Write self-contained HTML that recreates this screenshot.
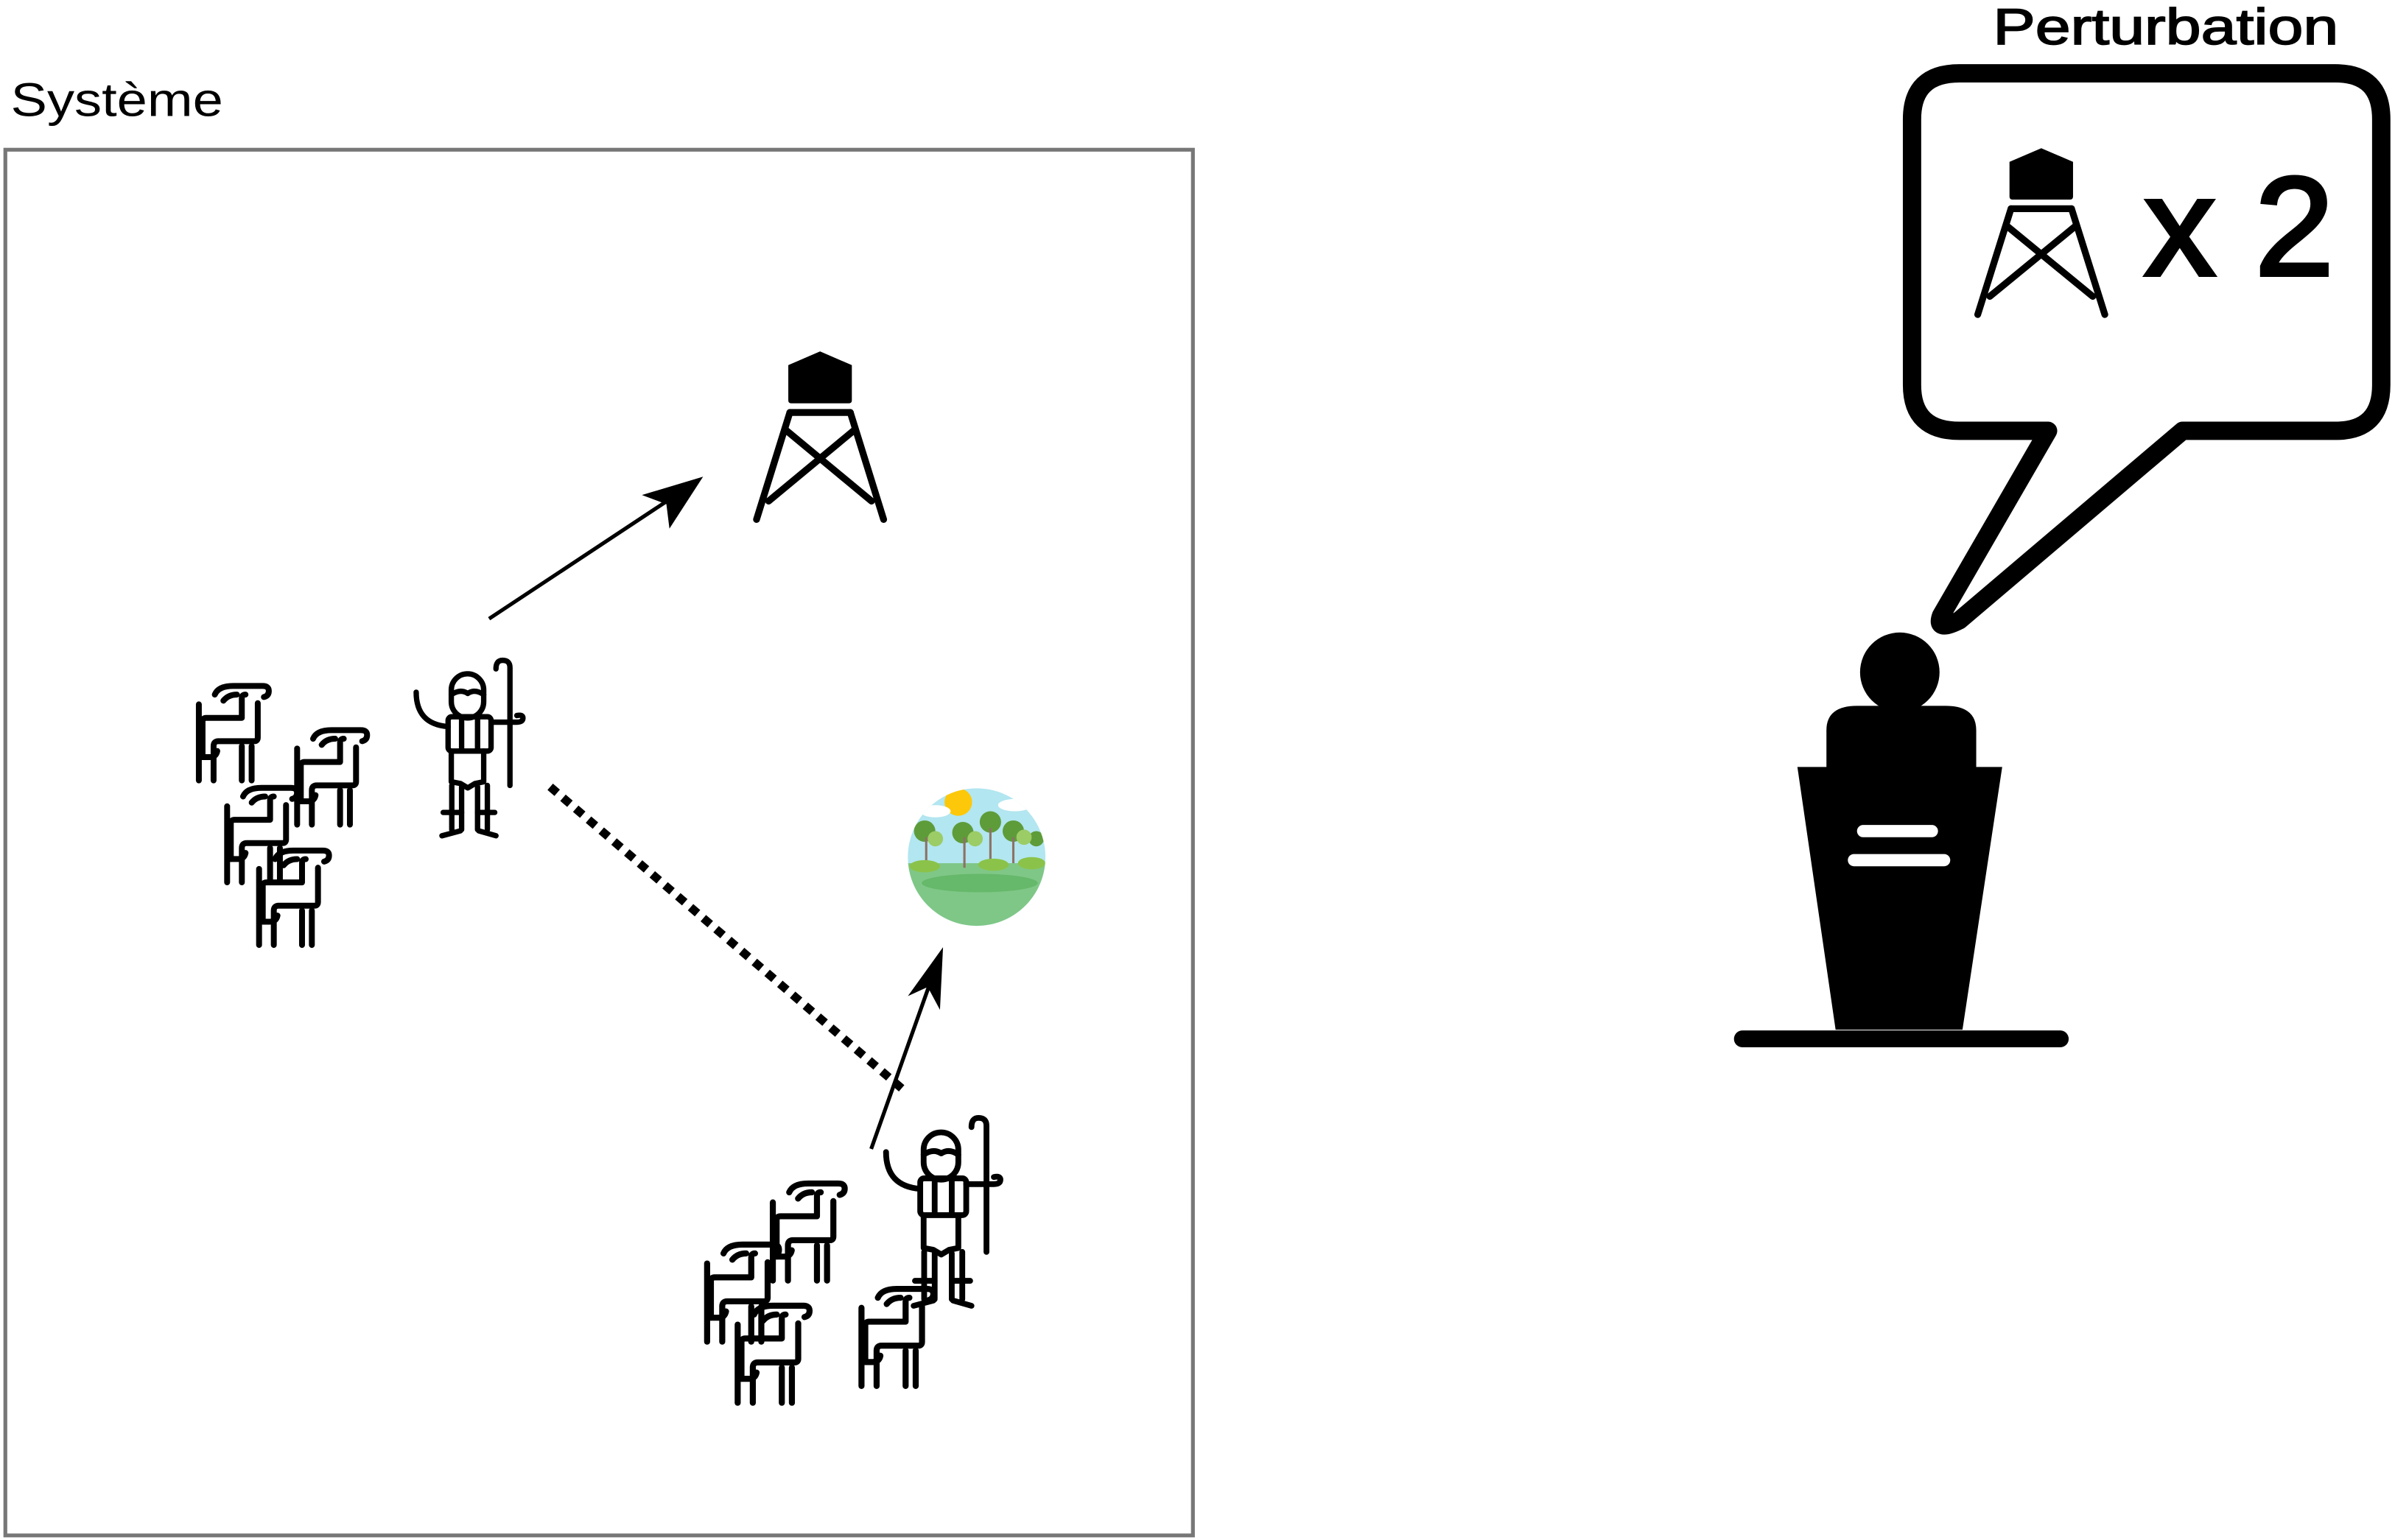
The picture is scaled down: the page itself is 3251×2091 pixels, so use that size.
<!DOCTYPE html>
<html><head><meta charset="utf-8"><style>
html,body{margin:0;padding:0;background:#fff;width:3251px;height:2091px;overflow:hidden}
svg{display:block}
</style></head><body>
<svg width="3251" height="2091" viewBox="0 0 1567 1008" preserveAspectRatio="none" xmlns="http://www.w3.org/2000/svg">
<defs>
  <g id="sheep" fill="none" stroke="#000" stroke-width="24" stroke-linecap="round" stroke-linejoin="round">
    <path d="M10,85 V395"/>
    <path d="M25,300 V155 Q25,140 40,140 H185 V60 Q185,45 200,45"/>
    <path d="M250,80 V220 Q250,235 235,235 H90 Q70,235 70,255 V395"/>
    <path d="M185,255 V395 M225,255 V395"/>
    <path d="M25,300 H55 Q80,300 85,275"/>
    <path d="M75,45 Q90,10 150,10 H270 Q295,10 295,30 Q295,50 275,55"/>
    <path d="M110,70 Q130,45 165,45"/>
  </g>
  <g id="shepherd" fill="none" stroke="#000" stroke-width="22" stroke-linecap="round" stroke-linejoin="round">
    <rect x="153" y="65" width="132" height="180" rx="66"/>
    <path d="M153,150 Q190,125 220,145 Q250,125 285,150"/>
    <rect x="140" y="240" width="175" height="140" rx="15"/>
    <path d="M195,245 V375 M260,245 V375"/>
    <path d="M10,140 Q10,270 140,280"/>
    <path d="M335,45 Q335,10 362,10 Q392,10 392,40 V520"/>
    <path d="M315,262 H420 Q445,262 445,245 Q445,230 420,235"/>
    <path d="M153,380 V505 L190,512 L220,530 L250,512 L285,505 V380"/>
    <path d="M155,520 V700 M195,525 V700 M260,525 V700 M300,520 V700"/>
    <path d="M120,630 H195 M260,630 H330"/>
    <path d="M115,725 L190,705 M265,705 L335,725"/>
  </g>
  <g id="tower">
    <path d="M23,9 L44,0 L65,9 V32 Q65,34 63,34 H25 Q23,34 23,32 Z" fill="#000"/>
    <g fill="none" stroke="#000" stroke-width="4.5" stroke-linecap="round">
      <path d="M24,40 L2,110 M64,40 L86,110"/>
      <path d="M24,40 H64"/>
      <path d="M22,52 L78,98 M66,52 L10,98"/>
    </g>
  </g>
  <clipPath id="pc"><circle cx="639" cy="561" r="45"/></clipPath>
</defs>

<text x="7" y="76" font-family="Liberation Sans, sans-serif" font-size="31" fill="#000" textLength="139" lengthAdjust="spacingAndGlyphs">Système</text>
<rect x="3.5" y="98" width="777" height="907" fill="none" stroke="#777" stroke-width="2.5"/>

<use href="#tower" transform="translate(493,230) scale(0.99,1.0)"/>

<line x1="320" y1="405" x2="456" y2="315" stroke="#000" stroke-width="2.5"/>
<path d="M460,312 L420,324 L436,330 L438,346 Z" fill="#000"/>

<line x1="360" y1="515" x2="593" y2="715" stroke="#000" stroke-width="5.5" stroke-dasharray="6,5"/>

<line x1="570" y1="752" x2="614" y2="628" stroke="#000" stroke-width="2.5"/>
<path d="M617,620 L594,652 L607,646 L615,661 Z" fill="#000"/>

<g clip-path="url(#pc)">
  <rect x="590" y="510" width="100" height="100" fill="#b2e6f0"/>
  <circle cx="627" cy="525" r="9" fill="#fdc80a"/>
  <ellipse cx="612" cy="531" rx="10" ry="4" fill="#fff"/>
  <ellipse cx="664" cy="527" rx="11" ry="4" fill="#fff"/>
  <rect x="590" y="565" width="100" height="50" fill="#7fc787"/>
  <ellipse cx="641" cy="578" rx="38" ry="6" fill="#66b86a"/>
  <g fill="#5e9c3a">
    <circle cx="605" cy="544" r="7"/><circle cx="630" cy="545" r="7"/><circle cx="648" cy="538" r="7"/><circle cx="663" cy="544" r="7"/><circle cx="678" cy="549" r="5"/>
  </g>
  <g fill="#9ccc65"><circle cx="612" cy="549" r="5"/><circle cx="638" cy="549" r="5"/><circle cx="670" cy="548" r="5"/></g>
  <g stroke="#8d7166" stroke-width="1.5"><path d="M606,548 V566 M631,548 V568 M648,542 V566 M663,548 V565"/></g>
  <g fill="#8bc34a"><ellipse cx="605" cy="567" rx="10" ry="4"/><ellipse cx="650" cy="566" rx="10" ry="4"/><ellipse cx="675" cy="565" rx="9" ry="4"/></g>
</g>

<!-- group 1 -->
<use href="#sheep" transform="translate(128.5,447.4) scale(0.1606)"/>
<use href="#sheep" transform="translate(192.8,476.3) scale(0.1606)"/>
<use href="#sheep" transform="translate(147,514.1) scale(0.1606)"/>
<use href="#sheep" transform="translate(167.9,555.1) scale(0.1606)"/>
<use href="#shepherd" transform="translate(270.7,430.6) scale(0.1606)"/>

<!-- group 2 -->
<use href="#sheep" transform="translate(504,773) scale(0.165)"/>
<use href="#sheep" transform="translate(461,813) scale(0.165)"/>
<use href="#sheep" transform="translate(481,853) scale(0.165)"/>
<use href="#sheep" transform="translate(562,842) scale(0.165)"/>
<use href="#shepherd" transform="translate(578,730) scale(0.172)"/>

<!-- perturbation -->
<text x="1304" y="29" font-family="Liberation Sans, sans-serif" font-size="33" fill="#000" stroke="#000" stroke-width="0.8" textLength="226" lengthAdjust="spacingAndGlyphs">Perturbation</text>
<path d="M1340,282 H1282 Q1251,282 1251,252 V78 Q1251,48 1282,48 H1528 Q1558,48 1558,78 V252 Q1558,282 1528,282 H1428 L1282,406 Q1266,414 1270,403 Z" fill="#fff" stroke="#000" stroke-width="12" stroke-linejoin="round"/>
<use href="#tower" transform="translate(1292,97) scale(0.99,0.99)"/>
<text x="1403" y="180" font-family="Liberation Sans, sans-serif" font-size="92" fill="#000" stroke="#000" stroke-width="2.5" textLength="124" lengthAdjust="spacingAndGlyphs">x 2</text>

<!-- speaker -->
<circle cx="1243" cy="440" r="26" fill="#000"/>
<path d="M1195,515 V478 Q1195,462 1215,462 H1273 Q1293,462 1293,478 V515 Z" fill="#000"/>
<path d="M1176,502 H1310 L1284,674 H1201 Z" fill="#000"/>
<line x1="1140" y1="680" x2="1348" y2="680" stroke="#000" stroke-width="11" stroke-linecap="round"/>
<line x1="1219" y1="544" x2="1264" y2="544" stroke="#fff" stroke-width="8" stroke-linecap="round"/>
<line x1="1213" y1="563" x2="1272" y2="563" stroke="#fff" stroke-width="8" stroke-linecap="round"/>
</svg>
</body></html>
